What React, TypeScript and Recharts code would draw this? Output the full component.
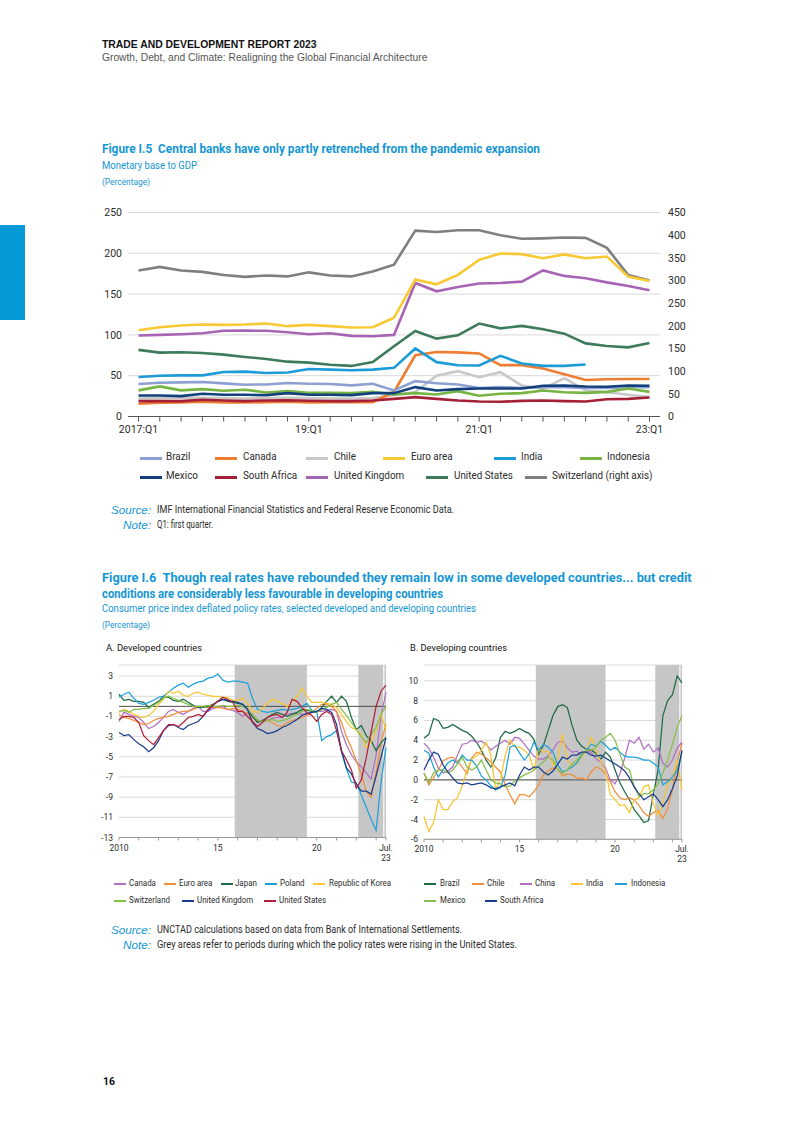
import React from "react";
import {
  LineChart, Line, XAxis, YAxis, CartesianGrid, ReferenceArea, ReferenceLine,
} from "recharts";

// ---------- Figure I.5: monetary base to GDP (quarterly) ----------
const quarters = [
  "17:Q1", "17:Q2", "17:Q3", "17:Q4", "18:Q1", "18:Q2", "18:Q3", "18:Q4",
  "19:Q1", "19:Q2", "19:Q3", "19:Q4", "20:Q1", "20:Q2", "20:Q3", "20:Q4",
  "21:Q1", "21:Q2", "21:Q3", "21:Q4", "22:Q1", "22:Q2", "22:Q3", "22:Q4", "23:Q1",
];
const quarterLabels: Record<string, string> = { "17:Q1": "2017:Q1", "19:Q1": "19:Q1", "21:Q1": "21:Q1", "23:Q1": "23:Q1" };

const brazil = [39.8, 41.4, 41.8, 42.2, 40.6, 39, 39.3, 41, 40.2, 39.8, 38.1, 40.2, 32, 43.3, 40.8, 39.2, 35, 36, 35, 36, 36, 35, 35, 36, 36];
const canada = [15.6, 16.8, 17.2, 18, 17.2, 17.2, 17.6, 18, 17.2, 17.6, 17.6, 17.6, 30, 75, 79, 78.6, 77.3, 62.9, 62.9, 58.8, 51.8, 44.8, 45.6, 46, 46];
const chile = [22, 22.5, 23, 23, 22.5, 22, 22.5, 23, 22.5, 22, 22, 22.5, 26, 30, 50, 55.6, 48.2, 54.3, 38, 33.9, 47, 31.9, 29.8, 26.6, 23.7];
const euroArea = [105.7, 109.4, 111.5, 112.7, 112.3, 112.7, 114, 110.7, 112.3, 110.7, 109, 109.4, 121, 167.8, 162, 173.5, 192, 199.8, 199, 194, 198.6, 194, 196, 171.4, 166];
const india = [48.4, 50, 50.4, 50.4, 54.5, 55, 53.3, 54, 58.2, 57.4, 56.6, 57.4, 59.6, 83.4, 66.6, 62.8, 62.5, 74.4, 65, 62, 62, 63.7, null, null, null];
const indonesia = [32, 36.9, 32, 33.6, 31.6, 32.8, 29.5, 31.1, 29, 29, 28.7, 30.3, 27, 28.6, 27, 31.1, 25.4, 27.8, 28.6, 31.9, 29.8, 29, 30.2, 34.3, 30.2];
const mexico = [25.8, 25.8, 25, 27.9, 26.6, 26.6, 26.2, 28.7, 26.6, 26.6, 26.2, 28.7, 28.6, 36, 31.9, 33.5, 34.3, 34.3, 34.3, 37.6, 38, 36.8, 36.4, 38, 37.6];
const southAfrica = [18.9, 18.9, 18.9, 20.5, 19.7, 18.9, 19.7, 20, 19.3, 18.9, 18.9, 19.7, 21.6, 23.7, 21.6, 19.6, 18.4, 18, 19.2, 19.6, 18.8, 18.4, 21.2, 21.6, 23.3];
const unitedKingdom = [99.2, 100, 100.8, 102, 105, 105.3, 105, 103.3, 100.8, 102, 98.8, 98.4, 100, 163.6, 153.4, 158.7, 163, 163.6, 165.3, 179, 172.3, 169.4, 164.4, 160, 154.6];
const unitedStates = [81.6, 78.3, 78.7, 77.9, 75.8, 73, 70.5, 67.2, 66, 63.5, 62, 66.8, 86, 104.8, 95.4, 99.5, 113.9, 108, 111, 106.9, 101.5, 89.6, 86.3, 84.7, 90];
const switzerland = [322, 330, 322, 319, 312, 308, 311, 309, 318, 311, 309, 320, 335, 410, 407, 411, 411, 400, 392, 393, 395, 394, 372, 312, 300];

const leftTicks = [0, 50, 100, 150, 200, 250];
const rightTicks = [0, 50, 100, 150, 200, 250, 300, 350, 400, 450];

// ---------- Figure I.6: real policy rates (quarterly samples, Jan 2010 - Jul 2023) ----------
const periods = [
  2010, 2010.25, 2010.5, 2010.75, 2011, 2011.25, 2011.5, 2011.75, 2012, 2012.25, 2012.5, 2012.75,
  2013, 2013.25, 2013.5, 2013.75, 2014, 2014.25, 2014.5, 2014.75, 2015, 2015.25, 2015.5, 2015.75,
  2016, 2016.25, 2016.5, 2016.75, 2017, 2017.25, 2017.5, 2017.75, 2018, 2018.25, 2018.5, 2018.75,
  2019, 2019.25, 2019.5, 2019.75, 2020, 2020.25, 2020.5, 2020.75, 2021, 2021.25, 2021.5, 2021.75,
  2022, 2022.25, 2022.5, 2022.75, 2023, 2023.25, 2023.5,
];
const yearTicks = [2010, 2011, 2012, 2013, 2014, 2015, 2016, 2017, 2018, 2019, 2020, 2021, 2022, 2023, 2023.5];
const yearLabels: Record<number, string[]> = { 2010: ["2010"], 2015: ["15"], 2020: ["20"], 2023.5: ["Jul.", "23"] };
const hikePeriods: [number, number][] = [[2015.85, 2019.5], [2022.1, 2023.36], [2023.42, 2023.5]];

const canadaA = [-1.5, -0.6, -0.8, -1.0, -1.1, -1.6, -2.2, -2.0, -1.6, -1.1, -0.5, -0.3, -0.6, -0.8, -0.5, -0.2, 0.0, -0.5, -0.5, -0.2, -0.1, 0.0, -0.3, -0.4, -0.6, -1.0, -0.6, -1.1, -1.4, -1.5, -1.4, -1.2, -1.1, -1.1, -0.8, -0.7, -0.7, -0.8, -0.8, -0.6, -0.5, -0.5, -0.4, -0.3, -0.5, -2.5, -3.8, -4.8, -5.5, -6.0, -6.6, -7.2, -4.8, -1.0, 1.4];
const euroA = [-0.8, -1.1, -1.2, -1.4, -1.6, -1.8, -1.7, -1.4, -1.2, -1.1, -1.0, -0.8, -0.6, -0.5, -0.5, -0.3, -0.1, 0.0, -0.1, -0.1, -0.1, -0.2, -0.3, -0.2, -0.3, -0.5, -0.7, -1.1, -1.5, -1.4, -1.4, -1.6, -1.9, -2.0, -1.6, -1.4, -1.3, -1.1, -0.9, -0.6, -0.2, 0.2, 0.2, 0.0, -0.5, -1.6, -3.0, -4.1, -5.4, -6.7, -8.4, -9.0, -6.5, -3.6, -1.8];
const japanA = [1.2, 0.6, 0.7, 0.5, 0.5, 0.4, -0.1, 0.2, 0.5, 1.0, 0.9, 0.6, 0.5, 0.7, 0.4, 0.1, -0.1, -0.1, 0.0, 0.2, 0.5, 0.7, 0.5, 0.4, 0.3, 0.2, -0.3, -1.0, -1.6, -1.4, -1.1, -0.8, -0.6, -0.8, -1.0, -0.8, -0.6, -0.3, -0.4, -0.5, -0.6, -0.1, 0.5, 1.0, 0.4, 1.0, 0.5, -1.1, -2.3, -1.9, -2.9, -3.4, -4.4, -3.6, -3.1];
const polandA = [0.9, 1.2, 1.4, 0.8, 0.3, 0.2, 0.4, 0.6, 0.9, 1.0, 1.4, 1.8, 2.1, 2.3, 1.9, 2.2, 2.4, 2.5, 2.8, 2.9, 3.2, 2.6, 2.4, 2.5, 2.5, 2.4, 2.3, 0.8, -0.3, -0.5, -0.6, -0.5, -0.4, -0.3, -0.4, -0.3, -0.2, 0.0, 0.3, -0.4, -0.5, -3.4, -3.0, -2.8, -2.4, -4.5, -6.2, -7.5, -7.6, -8.8, -10.0, -11.2, -12.3, -7.5, -4.1];
const koreaA = [-0.6, -0.3, -0.5, -0.8, -1.0, -1.1, -0.9, -0.5, 0.2, 0.7, 1.5, 1.3, 1.5, 1.1, 1.0, 1.3, 1.4, 1.2, 1.1, 1.0, 1.0, 0.9, 0.9, 0.6, 0.6, 0.8, 0.3, -0.5, -0.6, -0.2, 0.3, 0.7, 0.5, 0.3, 0.0, 0.5, 1.0, 1.8, 1.0, 0.4, 0.4, 0.4, 0.3, 0.2, -0.1, -0.8, -1.5, -2.1, -2.3, -2.8, -4.1, -3.5, -2.4, -0.8, -2.3];
const switzerlandA = [-0.5, -0.4, -0.6, -0.3, -0.3, -0.2, -0.2, 0.1, 0.4, 0.8, 1.0, 0.8, 0.6, 0.4, 0.2, 0.0, 0.0, 0.0, 0.1, 0.0, 0.0, 0.1, 0.0, 0.0, 0.1, 0.0, -0.3, -0.8, -1.3, -1.5, -1.4, -1.3, -1.5, -1.4, -1.3, -1.0, -0.8, -0.5, -0.3, -0.4, -0.6, -0.3, -0.1, 0.2, 0.4, -0.3, -0.9, -1.6, -2.3, -3.0, -3.6, -2.8, -2.1, -0.8, 0.0];
const ukA = [-2.6, -2.9, -2.8, -3.3, -3.7, -4.0, -4.5, -4.1, -3.4, -2.4, -1.9, -1.8, -2.1, -2.3, -1.9, -1.7, -1.5, -1.0, -0.4, 0.1, 0.5, 0.7, 0.6, 0.5, 0.4, 0.2, -0.3, -1.6, -2.2, -2.4, -2.7, -2.6, -2.4, -2.1, -1.9, -1.6, -1.3, -0.9, -0.7, -0.6, -0.5, -0.2, -0.3, -0.6, -1.8, -4.4, -6.1, -6.7, -7.7, -8.4, -8.4, -8.7, -6.9, -5.0, -3.1];
const usA = [-1.3, -1.0, -1.0, -1.1, -1.6, -2.9, -3.4, -3.8, -3.1, -2.4, -1.8, -1.8, -2.0, -1.6, -1.1, -1.0, -0.8, -1.0, -0.3, 0.1, 0.5, 0.9, 0.7, 0.4, -0.5, -0.5, -1.0, -1.5, -2.0, -1.6, -1.1, -0.9, -0.8, -1.1, -0.6, 0.7, 0.5, -0.1, -0.6, -0.9, -1.5, -0.8, -0.5, -0.8, -2.4, -4.4, -5.3, -6.3, -8.1, -7.3, -5.1, -2.5, 0.0, 1.5, 2.1];

const brazilB = [4.2, 4.6, 6.2, 6.0, 5.2, 5.3, 5.6, 5.3, 5.0, 4.8, 4.4, 3.8, 3.0, 2.0, 1.3, 2.2, 4.3, 4.9, 4.7, 4.9, 5.2, 4.9, 4.7, 4.1, 2.6, 3.5, 5.0, 6.5, 7.4, 7.6, 7.3, 5.5, 4.0, 3.4, 3.1, 3.0, 2.7, 2.1, 2.8, 2.3, 1.0, -0.3, -1.2, -2.0, -3.0, -3.6, -4.3, -4.1, -1.5, 1.0, 6.5, 8.0, 8.6, 10.5, 9.8];
const chileB = [0.7, -0.5, 0.2, 1.0, 1.9, 2.2, 2.3, 1.9, 1.3, 0.6, 2.2, 2.8, 2.6, 2.2, 1.8, 1.3, 0.8, -0.5, -1.5, -2.4, -1.5, -1.5, -1.7, -1.2, -0.5, 0.5, 0.9, 1.2, 1.1, 0.4, 0.6, 0.5, 0.2, 0.2, 0.0, 0.8, 1.3, 1.1, 0.6, -0.2, -1.2, -1.8, -2.0, -1.8, -2.0, -2.6, -3.3, -3.7, -3.3, -3.1, -3.9, -2.9, -1.0, 1.8, 3.7];
const chinaB = [3.7, 3.2, 2.3, 1.2, 0.7, 0.9, 1.3, 2.5, 3.6, 3.7, 4.0, 3.8, 3.9, 3.6, 3.0, 3.4, 3.7, 4.0, 3.6, 4.3, 4.2, 3.6, 3.0, 2.4, 2.1, 2.1, 2.4, 3.0, 3.8, 3.9, 3.2, 2.8, 2.9, 2.5, 2.9, 2.8, 2.1, 1.8, 1.2, 0.0, -0.4, 0.6, 2.2, 4.0, 3.7, 4.3, 3.1, 3.6, 2.8, 3.2, 1.7, 1.3, 2.0, 3.2, 3.8];
const indiaB = [-3.7, -5.2, -4.3, -2.0, -3.0, -3.0, -2.2, -1.8, -0.6, 1.0, 2.1, 2.4, 3.0, 3.8, 2.5, -1.0, 0.0, 2.5, 4.0, 3.3, 3.3, 3.0, 2.5, 1.0, 3.2, 2.8, 2.9, 1.5, 2.2, 4.6, 2.0, 1.4, 1.6, 2.3, 2.9, 4.3, 3.0, 1.8, 0.9, -1.5, -2.0, -2.6, -2.5, -3.3, -2.0, -1.8, -0.7, -0.5, -2.4, -3.6, -2.2, -0.5, 0.3, 2.0, -1.0];
const indonesiaB = [3.0, 2.7, 1.3, 0.3, 1.0, 1.7, 2.0, 1.7, 2.5, 2.0, 2.0, 1.4, 0.4, 0.0, -0.6, -1.0, -0.8, 0.5, 3.3, 3.5, 2.7, 2.0, 2.6, 3.8, 3.0, 3.6, 3.3, 2.8, 1.5, 0.8, 1.0, 1.3, 1.7, 2.5, 3.0, 3.6, 3.4, 3.9, 3.5, 3.0, 3.3, 2.8, 2.4, 2.3, 2.3, 2.2, 2.0, 2.0, 1.7, 1.3, -0.5, -0.2, 0.3, 1.0, 2.8];
const mexicoB = [0.7, -0.3, 0.7, 1.0, 1.0, 0.7, 1.0, 1.6, 2.3, 1.3, 1.0, 1.3, 2.0, 1.0, 0.0, -0.3, -0.4, -0.7, -0.6, -0.1, 0.2, 0.5, 0.7, 1.0, 1.4, 1.8, 2.3, 2.0, 1.0, 0.7, 1.0, 1.6, 2.0, 2.6, 3.0, 3.0, 3.3, 4.0, 4.3, 4.7, 4.0, 2.6, 1.3, 1.0, -0.7, -1.7, -1.4, -1.4, -1.0, -0.4, 0.7, 2.0, 3.6, 5.3, 6.5];
const southAfricaB = [1.0, 2.0, 2.8, 2.6, 1.5, 0.8, 0.2, -0.3, -0.4, -0.3, -0.5, -0.4, -0.3, -0.5, -0.8, -0.9, -0.7, -0.5, -0.3, -0.6, 0.5, 1.3, 1.0, 1.3, 1.3, 0.8, 0.5, 0.9, 1.6, 2.3, 2.1, 2.5, 2.5, 2.8, 2.8, 2.5, 2.4, 2.5, 2.2, 1.9, 1.6, 1.3, 0.9, 0.2, -0.7, -1.4, -2.0, -1.7, -1.4, -2.0, -2.7, -2.0, -0.9, 0.4, 3.0];

const panelATicks = [-13, -11, -9, -7, -5, -3, -1, 1, 3];
const panelBTicks = [-6, -4, -2, 0, 2, 4, 6, 8, 10];

// ---------- styling ----------
const BLUE = "#1596d4";
const TEXT = "#2b2b2b";
const FONT = "Roboto";

type Series = { key: string; name: string; color: string; values: (number | null)[] };

const fig5Series: Series[] = [
  { key: "che", name: "Switzerland (right axis)", color: "#7f7f7f", values: switzerland },
  { key: "chl", name: "Chile", color: "#c8c8c8", values: chile },
  { key: "can", name: "Canada", color: "#ef7d31", values: canada },
  { key: "bra", name: "Brazil", color: "#8e9fd1", values: brazil },
  { key: "idn", name: "Indonesia", color: "#76b543", values: indonesia },
  { key: "zaf", name: "South Africa", color: "#a51f37", values: southAfrica },
  { key: "mex", name: "Mexico", color: "#12407c", values: mexico },
  { key: "ind", name: "India", color: "#1b9bd7", values: india },
  { key: "usa", name: "United States", color: "#3e7b5c", values: unitedStates },
  { key: "gbr", name: "United Kingdom", color: "#a864b4", values: unitedKingdom },
  { key: "ea", name: "Euro area", color: "#f9c934", values: euroArea },
];

const seriesA: Series[] = [
  { key: "can", name: "Canada", color: "#b36fc3", values: canadaA },
  { key: "ea", name: "Euro area", color: "#f28e3c", values: euroA },
  { key: "jpn", name: "Japan", color: "#1d6b45", values: japanA },
  { key: "pol", name: "Poland", color: "#1ea1db", values: polandA },
  { key: "kor", name: "Republic of Korea", color: "#f8c630", values: koreaA },
  { key: "che", name: "Switzerland", color: "#86bf4a", values: switzerlandA },
  { key: "gbr", name: "United Kingdom", color: "#1a3e8c", values: ukA },
  { key: "usa", name: "United States", color: "#b01f3c", values: usA },
];

const seriesB: Series[] = [
  { key: "bra", name: "Brazil", color: "#1d6b45", values: brazilB },
  { key: "chl", name: "Chile", color: "#f28e3c", values: chileB },
  { key: "chn", name: "China", color: "#b36fc3", values: chinaB },
  { key: "ind", name: "India", color: "#f8c630", values: indiaB },
  { key: "idn", name: "Indonesia", color: "#1ea1db", values: indonesiaB },
  { key: "mex", name: "Mexico", color: "#86bf4a", values: mexicoB },
  { key: "zaf", name: "South Africa", color: "#1a3e8c", values: southAfricaB },
];

const fig5Data = quarters.map((q, i) => {
  const row: Record<string, any> = { q };
  fig5Series.forEach((s) => { row[s.key] = s.values[i]; });
  return row;
});
const toRows = (list: Series[]) =>
  periods.map((t, i) => {
    const row: Record<string, any> = { t };
    list.forEach((s) => { row[s.key] = s.values[i]; });
    return row;
  });
const dataA = toRows(seriesA);
const dataB = toRows(seriesB);

// ---------- text helpers ----------
let ctx: CanvasRenderingContext2D | null = null;
const measure = (text: string, font: string) => {
  if (!ctx) ctx = document.createElement("canvas").getContext("2d");
  if (!ctx) return 0;
  ctx.font = font;
  return ctx.measureText(text).width;
};

type TProps = {
  x: number; y: number; size: number; children: string;
  w?: number; sx?: number; weight?: number; italic?: boolean;
  color?: string; family?: string; right?: boolean;
};

// absolutely placed text, squeezed horizontally to mimic the condensed face
const T = ({ x, y, size, children, w, sx = 1, weight = 400, italic, color = TEXT, family = FONT, right }: TProps) => {
  const font = `${italic ? "italic " : ""}${weight} ${size}px ${family}`;
  const natural = measure(children, font);
  const k = w && natural ? w / natural : sx;
  const width = natural * k;
  return (
    <div
      style={{
        position: "absolute", left: right ? x - width : x, top: y - size * 0.62,
        font, lineHeight: `${size * 1.2}px`, color, whiteSpace: "pre",
        transform: `scaleX(${k})`, transformOrigin: "left top",
      }}
    >
      {children}
    </div>
  );
};

const LegendItem = ({ x, tx, y, len, thick, color, label, size, sx }: any) => (
  <>
    <div style={{ position: "absolute", left: x, top: y - thick / 2, width: len, height: thick, background: color }} />
    <T x={tx} y={y} size={size} sx={sx}>{label}</T>
  </>
);

const QuarterTick = ({ x, y, payload }: any) => {
  const label = quarterLabels[payload.value];
  if (!label) return null;
  return (
    <text x={x} y={y + 9} textAnchor="middle" fontSize={10.5} fill={TEXT} fontFamily={FONT}>{label}</text>
  );
};

const YearTick = ({ x, y, payload }: any) => {
  const lines = yearLabels[payload.value];
  if (!lines) return null;
  return (
    <g>
      {lines.map((l, i) => (
        <text key={i} x={x} y={y + 8 + i * 10} textAnchor="middle" fontSize={8.5} fill={TEXT} fontFamily={FONT}>{l}</text>
      ))}
    </g>
  );
};

const Panel = ({ data, series, domain, ticks, width, margin }: any) => (
  <LineChart width={width} height={220} data={data} margin={margin} style={{ fontFamily: FONT }}>
    <CartesianGrid vertical={false} stroke="#dadada" />
    {hikePeriods.map(([a, b], i) => (
      <ReferenceArea key={i} x1={a} x2={b} fill="#c6c6c6" fillOpacity={1} stroke="none" ifOverflow="hidden" />
    ))}
    <ReferenceLine y={0} stroke="#4d4d4d" strokeWidth={1} />
    <XAxis
      dataKey="t" type="number" domain={[2010, 2023.5]} ticks={yearTicks} interval={0}
      tick={<YearTick />} tickSize={3} tickLine={{ stroke: "#9a9a9a" }} axisLine={{ stroke: "#9a9a9a" }} height={30}
    />
    <YAxis
      domain={domain} ticks={ticks} allowDataOverflow width={24} axisLine={false} tickLine={false}
      tickMargin={0} tick={{ fontSize: 8.5, fill: TEXT }} interval={0}
    />
    {series.map((s: Series) => (
      <Line key={s.key} dataKey={s.key} stroke={s.color} strokeWidth={1.25} dot={false} isAnimationActive={false} type="linear" />
    ))}
  </LineChart>
);

export default function App() {
  const legend5: [string, number, number, number][] = [
    // name, marker x, text x, row y
    ["Brazil", 140, 166, 458], ["Canada", 215, 243, 458], ["Chile", 306, 334, 458],
    ["Euro area", 383, 411, 458], ["India", 494, 521, 458], ["Indonesia", 580, 607, 458],
    ["Mexico", 140, 166, 477], ["South Africa", 215, 243, 477], ["United Kingdom", 306, 334, 477],
    ["United States", 426, 454, 477], ["Switzerland (right axis)", 525, 552, 477],
  ];
  const legendA: [string, number, number, number][] = [
    ["Canada", 114, 129, 884], ["Euro area", 164, 179, 884], ["Japan", 221, 235, 884],
    ["Poland", 265, 280, 884], ["Republic of Korea", 313, 329, 884],
    ["Switzerland", 114, 129, 901], ["United Kingdom", 182, 197, 901], ["United States", 264, 279, 901],
  ];
  const legendB: [string, number, number, number][] = [
    ["Brazil", 424, 440, 884], ["Chile", 472, 487, 884], ["China", 520, 535, 884],
    ["India", 571, 586, 884], ["Indonesia", 615, 631, 884],
    ["Mexico", 424, 440, 901], ["South Africa", 485, 500, 901],
  ];
  const colorOf = (list: Series[], name: string) => list.find((s) => s.name === name)?.color ?? "#000";
  const NOTE_FONT = "'Liberation Sans'";

  return (
    <div style={{ position: "absolute", left: 0, top: 0, width: 793, height: 1122, background: "#fff", overflow: "hidden" }}>
      {/* running header */}
      <T x={102} y={45} size={10.5} weight={700} w={215} color="#111" family="'Liberation Sans'">TRADE AND DEVELOPMENT REPORT 2023</T>
      <T x={102} y={58} size={10.5} w={326} color="#555" family="'Liberation Sans'">Growth, Debt, and Climate: Realigning the Global Financial Architecture</T>
      <div style={{ position: "absolute", left: 0, top: 225, width: 25, height: 95, background: "#079ad9" }} />

      {/* Figure I.5 */}
      <T x={102} y={149} size={12.5} weight={700} w={438} color={BLUE}>Figure I.5  Central banks have only partly retrenched from the pandemic expansion</T>
      <T x={102} y={166} size={11} w={95} color={BLUE}>Monetary base to GDP</T>
      <T x={102} y={182} size={9.5} w={48} color={BLUE}>(Percentage)</T>

      <div style={{ position: "absolute", left: 0, top: 190 }}>
        <LineChart width={793} height={260} data={fig5Data} margin={{ top: 22.5, right: 93, bottom: 3.5, left: 88 }} style={{ fontFamily: FONT }}>
          <CartesianGrid vertical={false} stroke="#d9d9d9" yAxisId="left" />
          <XAxis
            dataKey="q" interval={0} tick={<QuarterTick />} tickSize={5} height={30}
            padding={{ left: 10.5, right: 10.5 }} tickLine={{ stroke: "#555" }} axisLine={{ stroke: "#555" }}
          />
          <YAxis
            yAxisId="left" domain={[0, 250]} ticks={leftTicks} width={40} axisLine={false} tickLine={false}
            tickMargin={0} tick={{ fontSize: 10.5, fill: TEXT }} interval={0}
          />
          <YAxis
            yAxisId="right" orientation="right" domain={[0, 450]} ticks={rightTicks} width={40} axisLine={false}
            tickLine={false} tick={{ fontSize: 10.5, fill: TEXT }} interval={0}
          />
          {fig5Series.map((s) => (
            <Line
              key={s.key} yAxisId={s.key === "che" ? "right" : "left"} dataKey={s.key} stroke={s.color}
              strokeWidth={2.6} dot={false} isAnimationActive={false} type="linear"
            />
          ))}
        </LineChart>
      </div>

      {legend5.map(([name, mx, tx, y]) => (
        <LegendItem key={name} x={mx} tx={tx} y={y} len={22} thick={3} color={colorOf(fig5Series, name)} label={name} size={10.5} sx={0.94} />
      ))}

      <T x={151} y={511} size={10.5} italic right w={40} color={BLUE} family={NOTE_FONT}>Source:</T>
      <T x={157} y={511} size={10.5} w={297}>IMF International Financial Statistics and Federal Reserve Economic Data.</T>
      <T x={151} y={526} size={10.5} italic right w={28} color={BLUE} family={NOTE_FONT}>Note:</T>
      <T x={157} y={526} size={10.5} w={56}>Q1: first quarter.</T>

      {/* Figure I.6 */}
      <T x={102} y={578} size={12.5} weight={700} w={590} color={BLUE}>Figure I.6  Though real rates have rebounded they remain low in some developed countries... but credit</T>
      <T x={102} y={594} size={12.5} weight={700} w={341} color={BLUE}>conditions are considerably less favourable in developing countries</T>
      <T x={102} y={609} size={11} w={374} color={BLUE}>Consumer price index deflated policy rates, selected developed and developing countries</T>
      <T x={102} y={625} size={9.5} w={48} color={BLUE}>(Percentage)</T>

      <T x={106} y={648} size={9.5} w={96} color="#111">A. Developed countries</T>
      <T x={410} y={648} size={9.5} w={97} color="#111">B. Developing countries</T>

      <div style={{ position: "absolute", left: 0, top: 655 }}>
        <Panel data={dataA} series={seriesA} domain={[-13, 4.1]} ticks={panelATicks} width={400}
          margin={{ top: 10, right: 14, bottom: 7.5, left: 95 }} />
      </div>
      <div style={{ position: "absolute", left: 390, top: 655 }}>
        <Panel data={dataB} series={seriesB} domain={[-6, 11.6]} ticks={panelBTicks} width={310}
          margin={{ top: 10, right: 18, bottom: 5.7, left: 10 }} />
      </div>

      {legendA.map(([name, mx, tx, y]) => (
        <LegendItem key={"a" + name} x={mx} tx={tx} y={y} len={12} thick={1.5} color={colorOf(seriesA, name)} label={name} size={9} sx={0.88} />
      ))}
      {legendB.map(([name, mx, tx, y]) => (
        <LegendItem key={"b" + name} x={mx} tx={tx} y={y} len={12} thick={1.5} color={colorOf(seriesB, name)} label={name} size={9} sx={0.88} />
      ))}

      <T x={151} y={931} size={10.5} italic right w={40} color={BLUE} family={NOTE_FONT}>Source:</T>
      <T x={157} y={931} size={10.5} w={305}>UNCTAD calculations based on data from Bank of International Settlements.</T>
      <T x={151} y={946} size={10.5} italic right w={28} color={BLUE} family={NOTE_FONT}>Note:</T>
      <T x={157} y={946} size={10.5} w={360}>Grey areas refer to periods during which the policy rates were rising in the United States.</T>

      <T x={103} y={1083} size={10.5} weight={700} color="#111">16</T>
    </div>
  );
}
